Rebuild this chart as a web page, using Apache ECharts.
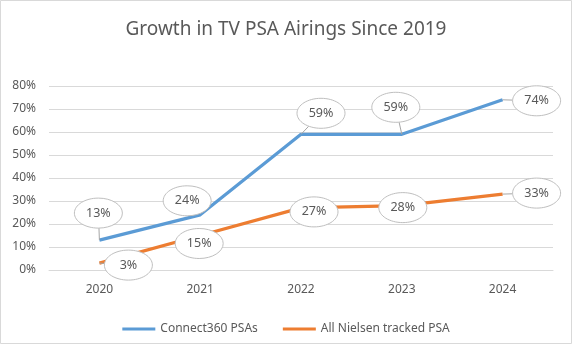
<!DOCTYPE html>
<html>
<head>
<meta charset="utf-8">
<script src="https://cdn.jsdelivr.net/npm/echarts@6/dist/echarts.min.js"></script>
<style>
  html, body { margin: 0; padding: 0; background: #fff; }
  #chart { width: 572px; height: 344px; }
</style>
</head>
<body>
<div id="chart"></div>
<script>
// Years on the category axis
const years = ['2020', '2021', '2022', '2023', '2024'];
// Growth in airings, percent
const connect360 = [13, 24, 59, 59, 74];
const nielsenAll = [3, 15, 27, 28, 33];
// Value-axis ticks (percent)
const yTicks = [0, 10, 20, 30, 40, 50, 60, 70, 80];
// Callout placement relative to each point, in pixels [dx, dy]
const connectCallout = [[-1, -27], [-13, -14], [20, -21], [-6, -27], [34, 1]];
const nielsenCallout = [[29, 2], [-1, 8], [13, 4], [1, 2], [34, -1]];

const BLUE = '#5B9BD5';
const ORANGE = '#ED7D31';
const TEXT = '#595959';
const GRID = '#D9D9D9';
const FONT = '"Noto Sans", "Liberation Sans", sans-serif';

// Elliptical callout bubble with an optional leader line back to the point
function calloutRenderer(params, api) {
  const pt = api.coord([api.value(0), api.value(1)]);
  const dx = api.value(2), dy = api.value(3);
  const cx = pt[0] + dx, cy = pt[1] + dy;
  const rx = 24, ry = 15;
  const children = [];
  const k = Math.sqrt((dx / rx) * (dx / rx) + (dy / ry) * (dy / ry));
  if (k > 1) {
    const t = 1 / k;
    const ex = cx - dx * t, ey = cy - dy * t;
    const dist = Math.hypot(pt[0] - ex, pt[1] - ey);
    if (dist > 4) {
      children.push({
        type: 'line',
        shape: { x1: pt[0], y1: pt[1], x2: ex, y2: ey },
        style: { stroke: '#A6A6A6', lineWidth: 1 }
      });
    }
  }
  children.push({
    type: 'ellipse',
    shape: { cx: cx, cy: cy, rx: rx, ry: ry },
    style: { fill: '#fff', stroke: '#BFBFBF', lineWidth: 1 }
  });
  children.push({
    type: 'text',
    style: {
      x: cx, y: cy,
      text: api.value(1) + '%',
      align: 'center', verticalAlign: 'middle',
      fill: TEXT, font: '12.5px ' + FONT
    }
  });
  return { type: 'group', children: children };
}

function calloutData(values, offsets) {
  return values.map((v, i) => [years[i], v, offsets[i][0], offsets[i][1]]);
}

const chart = echarts.init(document.getElementById('chart'), null, { renderer: 'canvas' });
chart.setOption({
  animation: false,
  backgroundColor: '#fff',
  title: {
    text: 'Growth in TV PSA Airings Since 2019',
    left: 'center',
    top: 15,
    textStyle: { color: TEXT, fontSize: 19, fontWeight: 'normal', fontFamily: FONT }
  },
  graphic: [{
    type: 'rect',
    shape: { x: 0.5, y: 0.5, width: 571, height: 343 },
    style: { fill: 'none', stroke: '#D9D9D9', lineWidth: 1 },
    silent: true
  }],
  legend: {
    data: ['Connect360 PSAs', 'All Nielsen tracked PSA'],
    left: 'center',
    top: 318,
    icon: 'rect',
    itemWidth: 33,
    itemHeight: 3,
    itemGap: 25,
    textStyle: { color: TEXT, fontSize: 12, fontFamily: FONT }
  },
  grid: { left: 49, right: 19, top: 86, bottom: 74 },
  xAxis: {
    type: 'category',
    data: years,
    boundaryGap: true,
    axisLine: { show: true, lineStyle: { color: GRID } },
    axisTick: { show: false },
    axisLabel: { color: TEXT, fontSize: 12, fontFamily: FONT, margin: 14 }
  },
  yAxis: {
    type: 'value',
    min: yTicks[0],
    max: yTicks[yTicks.length - 1],
    interval: yTicks[1] - yTicks[0],
    axisLine: { show: false },
    axisTick: { show: false },
    axisLabel: { color: TEXT, fontSize: 12, fontFamily: FONT, margin: 13, formatter: '{value}%' },
    splitLine: { lineStyle: { color: GRID, width: 1 } }
  },
  series: [
    {
      name: 'Connect360 PSAs',
      type: 'line',
      data: connect360,
      symbol: 'none',
      lineStyle: { color: BLUE, width: 3.25 },
      itemStyle: { color: BLUE },
      z: 2
    },
    {
      name: 'All Nielsen tracked PSA',
      type: 'line',
      data: nielsenAll,
      symbol: 'none',
      lineStyle: { color: ORANGE, width: 3.25 },
      itemStyle: { color: ORANGE },
      z: 2
    },
    {
      name: 'Connect360 labels',
      type: 'custom',
      renderItem: calloutRenderer,
      data: calloutData(connect360, connectCallout),
      encode: { x: 0, y: 1 },
      z: 5,
      silent: true
    },
    {
      name: 'Nielsen labels',
      type: 'custom',
      renderItem: calloutRenderer,
      data: calloutData(nielsenAll, nielsenCallout),
      encode: { x: 0, y: 1 },
      z: 5,
      silent: true
    }
  ]
});
</script>
</body>
</html>
